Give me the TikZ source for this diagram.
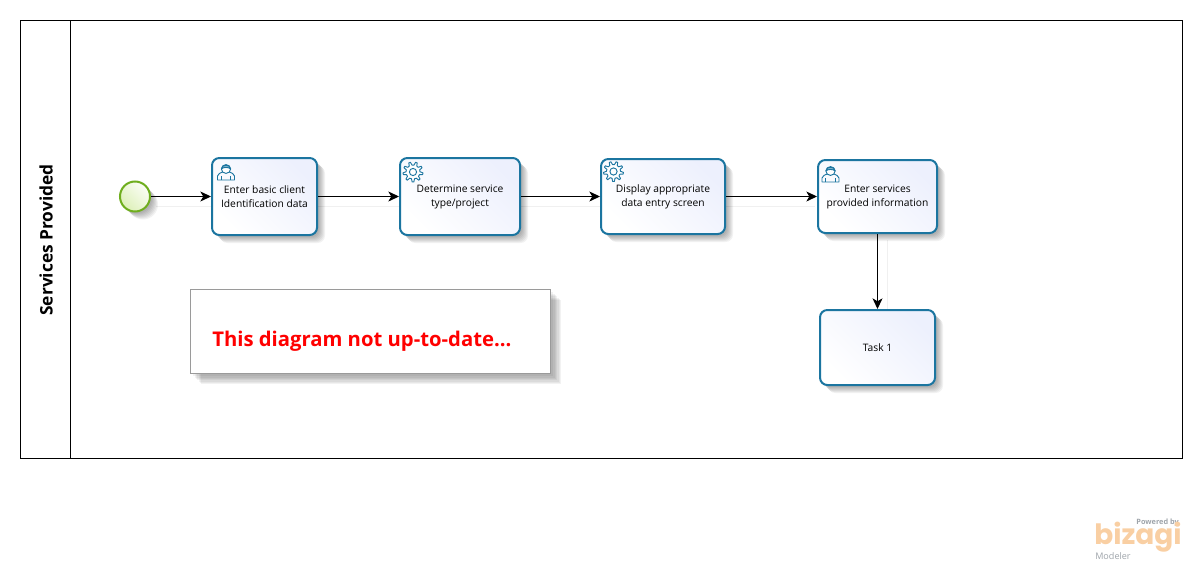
\documentclass[tikz,border=0pt]{standalone}
\usepackage{fontspec}
\setmainfont{Open Sans}
\newfontfamily\logofont{Poppins}
\usetikzlibrary{arrows.meta,shadows,shapes.geometric}
\definecolor{taskblue}{HTML}{1B75A0}
\definecolor{taskfill}{HTML}{EDF0FD}
\definecolor{startgreen}{HTML}{6FAE1E}
\definecolor{startfill}{HTML}{DDF0B8}
\definecolor{notegray}{HTML}{9A9A9A}
\definecolor{logoorange}{HTML}{F9CFA3}
\definecolor{logogray}{HTML}{9EA4AA}
\tikzset{
  softlayer/.style={general shadow={fill=black,fill opacity=.05,draw=none,shadow xshift=#1,shadow yshift=-#1}},
  softshadow/.style={softlayer=1.5pt,softlayer=2.25pt,softlayer=3pt,softlayer=3.75pt,softlayer=4.5pt,softlayer=5.25pt,softlayer=6pt},
  notelayer/.style={general shadow={fill=black,fill opacity=.05,draw=none,shadow xshift=#1,shadow yshift=-#1}},
  taskbox/.style={draw=taskblue,line width=1.5pt,rounded corners=5.5pt,inner sep=0pt,align=center,
    font=\fontsize{7.7}{10.5}\selectfont,text=black,left color=white,right color=taskfill,shading angle=135,softshadow},
  startev/.style={circle,draw=startgreen,line width=1.5pt,inner sep=0pt,minimum size=22.5pt,
    left color=startfill,right color=white!90!startfill,shading angle=135,softshadow},
  notebox/.style={draw=notegray,line width=.7pt,fill=white,inner sep=0pt,outer sep=0pt,
    notelayer=2pt,notelayer=3pt,notelayer=4pt,notelayer=5pt,notelayer=6pt,notelayer=7pt,notelayer=8pt},
  flow/.style={draw=black,line width=.8pt,-{Stealth[length=8pt,width=7.5pt,inset=2.2pt]}},
  flowshadow/.style={draw=black!6,line width=.6pt},
  poolline/.style={draw=black,line width=.75pt},
  iconline/.style={draw=taskblue,line width=.7pt,line join=round}
}
\newcommand{\usericon}[1]{%
  \begin{scope}[shift={(#1)}]
    \draw[iconline] (-8.5,7.5) -- (-8.5,3.5) .. controls (-8.5,1) and (-5,0.5) .. (-3.5,-0.5) -- (3.5,-0.5) .. controls (5,0.5) and (8.5,1) .. (8.5,3.5) -- (8.5,7.5) -- cycle;
    \draw[iconline,fill=white] (0,-3.5) ellipse (4.6 and 4.4);
    \draw[iconline,fill=taskblue!55] (-4.6,-3.7) .. controls (-4,-8.5) and (4,-8.5) .. (4.6,-3.7) .. controls (2,-5.5) and (-2,-5.5) .. (-4.6,-3.7) -- cycle;
    \draw[iconline] (-4.8,7.5) -- (-4.8,3.5) (4.8,7.5) -- (4.8,3.5);
  \end{scope}}
\newcommand{\gearicon}[1]{%
  \begin{scope}[shift={(#1)}]
    \draw[iconline,fill=white] (5:10)
      \foreach \a in {0,40,...,320}{
        -- (\a+5:10) -- (\a+15:10) -- (\a+22:7) -- (\a+38:7)
      } -- cycle;
    \draw[iconline,fill=white] (0,0) circle (3.6);
  \end{scope}}
\begin{document}
\begin{tikzpicture}[x=0.75pt,y=-0.75pt]
\useasboundingbox (0,0) rectangle (1202,571);
% pool
\node[poolline,draw,outer sep=0pt,minimum width=871.5pt,minimum height=328.5pt,inner sep=0pt,anchor=north west] (pool) at (20.5,20.5) {};
\coordinate (divtop) at (70.5,20.5);
\coordinate (divbot) at (70.5,458.5);
\draw[poolline] (divtop) -- (divbot);
\node[rotate=90,font=\fontsize{13}{15}\bfseries\selectfont] (lane) at (46,240) {Services Provided};
% connector shadows
\coordinate (sa) at (156,206); \coordinate (sb) at (815,206);
\draw[flowshadow] (sa) -- (sb);
\coordinate (sc) at (887,240); \coordinate (sd) at (887,312);
\draw[flowshadow] (sc) -- (sd);
% tasks
\node[startev] (start) at (135,196.5) {};
\node[taskbox,minimum width=78.75pt,minimum height=57.75pt] (t1) at (264.5,196.5) {Enter basic client\\Identification data};
\node[taskbox,minimum width=90pt,minimum height=57.75pt] (t2) at (460,196.5) {Determine service\\type/project};
\node[taskbox,minimum width=93pt,minimum height=56.25pt] (t3) at (663,196.5) {Display appropriate\\data entry screen};
\node[taskbox,minimum width=89.25pt,minimum height=54.75pt] (t4) at (877.5,196.5) {Enter services\\provided information};
\node[taskbox,minimum width=86.25pt,minimum height=56.25pt] (t5) at (877.5,347.5) {Task 1};
% icons
\usericon{226,172.5}
\gearicon{413,172}
\gearicon{613.5,171.5}
\usericon{830.5,174.5}
% flows
\draw[flow] (start) -- (t1);
\draw[flow] (t1) -- (t2);
\draw[flow] (t2) -- (t3);
\draw[flow] (t3) -- (t4);
\draw[flow] (t4) -- (t5);
% note
\node[notebox,minimum width=270pt,minimum height=63pt,anchor=north west] (note) at (190.5,289.5) {};
\node[anchor=west,text=red,font=\fontsize{15.2}{18}\bfseries\selectfont,inner sep=0pt] (notetext) at (212,341) {This diagram not up-to-date...};
% logo
\node[anchor=east,inner sep=0pt,text=logogray,font=\fontsize{5.5}{6}\bfseries\selectfont] (powered) at (1179,523) {Powered by};
\node[anchor=west,inner sep=0pt,text=logoorange,font=\logofont\bfseries\fontsize{21}{24}\selectfont] (bizagi) at (1094,537) {bizagi};
\node[anchor=west,inner sep=0pt,text=logogray,font=\fontsize{6.8}{8}\selectfont] (modeler) at (1095,556) {Modeler};
\end{tikzpicture}
\end{document}
